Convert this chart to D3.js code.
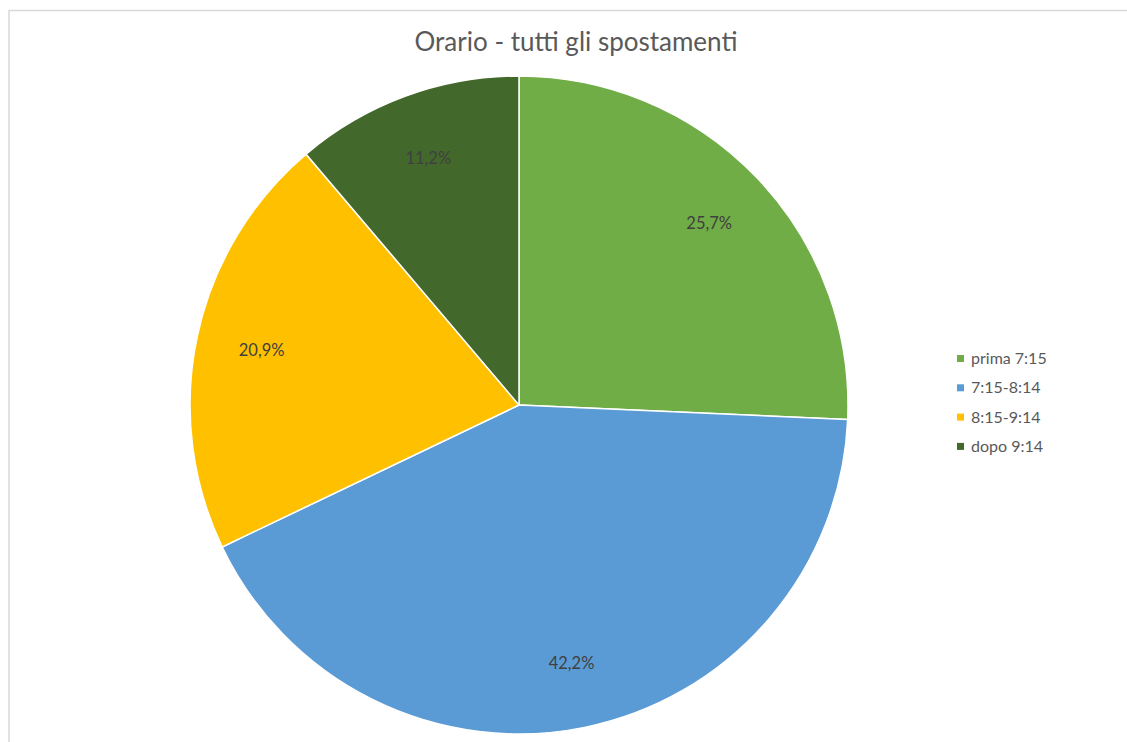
<!DOCTYPE html>
<html>
<head>
<meta charset="utf-8">
<script src="https://cdn.jsdelivr.net/npm/d3@7"></script>
<style>
  html, body { margin: 0; padding: 0; background: #fff; }
  svg { display: block; }
</style>
</head>
<body>
<svg id="chart" width="1127" height="742"></svg>
<script>
// Departure time bands and their share of all trips (%)
const categories = ["prima 7:15", "7:15-8:14", "8:15-9:14", "dopo 9:14"];
const shares = [25.7, 42.2, 20.9, 11.2];
const colors = ["#70AD47", "#5B9BD5", "#FFC000", "#43682B"];
const title = "Orario - tutti gli spostamenti";

const svg = d3.select("#chart");
const W = 1127, H = 742;
const font = "Lato, 'Open Sans', sans-serif";

// chart area frame
svg.append("rect")
  .attr("x", 9).attr("y", 10.5)
  .attr("width", W + 20).attr("height", H + 20)
  .attr("fill", "#fff")
  .attr("stroke", "#d9d9d9")
  .attr("stroke-width", 1.5);

svg.append("text")
  .attr("x", 576).attr("y", 51)
  .attr("text-anchor", "middle")
  .attr("font-family", font)
  .attr("font-size", 26)
  .attr("fill", "#595959")
  .text(title);

const cx = 519, cy = 405, R = 329;
const data = categories.map((c, i) => ({ name: c, value: shares[i], color: colors[i] }));

const pie = d3.pie().value(d => d.value).sort(null);
const arc = d3.arc().innerRadius(0).outerRadius(R);
const labelArc = d3.arc().innerRadius(R * 0.8).outerRadius(R * 0.8);
const fmt = v => d3.format(".1f")(v).replace(".", ",") + "%";

const g = svg.append("g").attr("transform", `translate(${cx},${cy})`);
const arcs = pie(data);

g.selectAll("path.slice")
  .data(arcs)
  .join("path")
  .attr("class", "slice")
  .attr("d", arc)
  .attr("fill", d => d.data.color)
  .attr("stroke", "#fff")
  .attr("stroke-width", 1.5)
  .attr("stroke-linejoin", "round");

g.selectAll("text.lbl")
  .data(arcs)
  .join("text")
  .attr("class", "lbl")
  .attr("transform", d => `translate(${labelArc.centroid(d)})`)
  .attr("text-anchor", "middle")
  .attr("dy", "0.35em")
  .attr("font-family", font)
  .attr("font-size", 16.5)
  .attr("fill", "#404040")
  .text(d => fmt(d.data.value));

// legend
const legend = svg.append("g").attr("transform", "translate(957,358.5)");
const rowH = 29.3;
const items = legend.selectAll("g")
  .data(data)
  .join("g")
  .attr("transform", (d, i) => `translate(0,${i * rowH})`);
items.append("rect")
  .attr("x", 0).attr("y", -3.5)
  .attr("width", 7).attr("height", 7)
  .attr("fill", d => d.color);
items.append("text")
  .attr("x", 14).attr("y", 0)
  .attr("dy", "0.35em")
  .attr("font-family", font)
  .attr("font-size", 16)
  .attr("fill", "#595959")
  .text(d => d.name);
</script>
</body>
</html>
